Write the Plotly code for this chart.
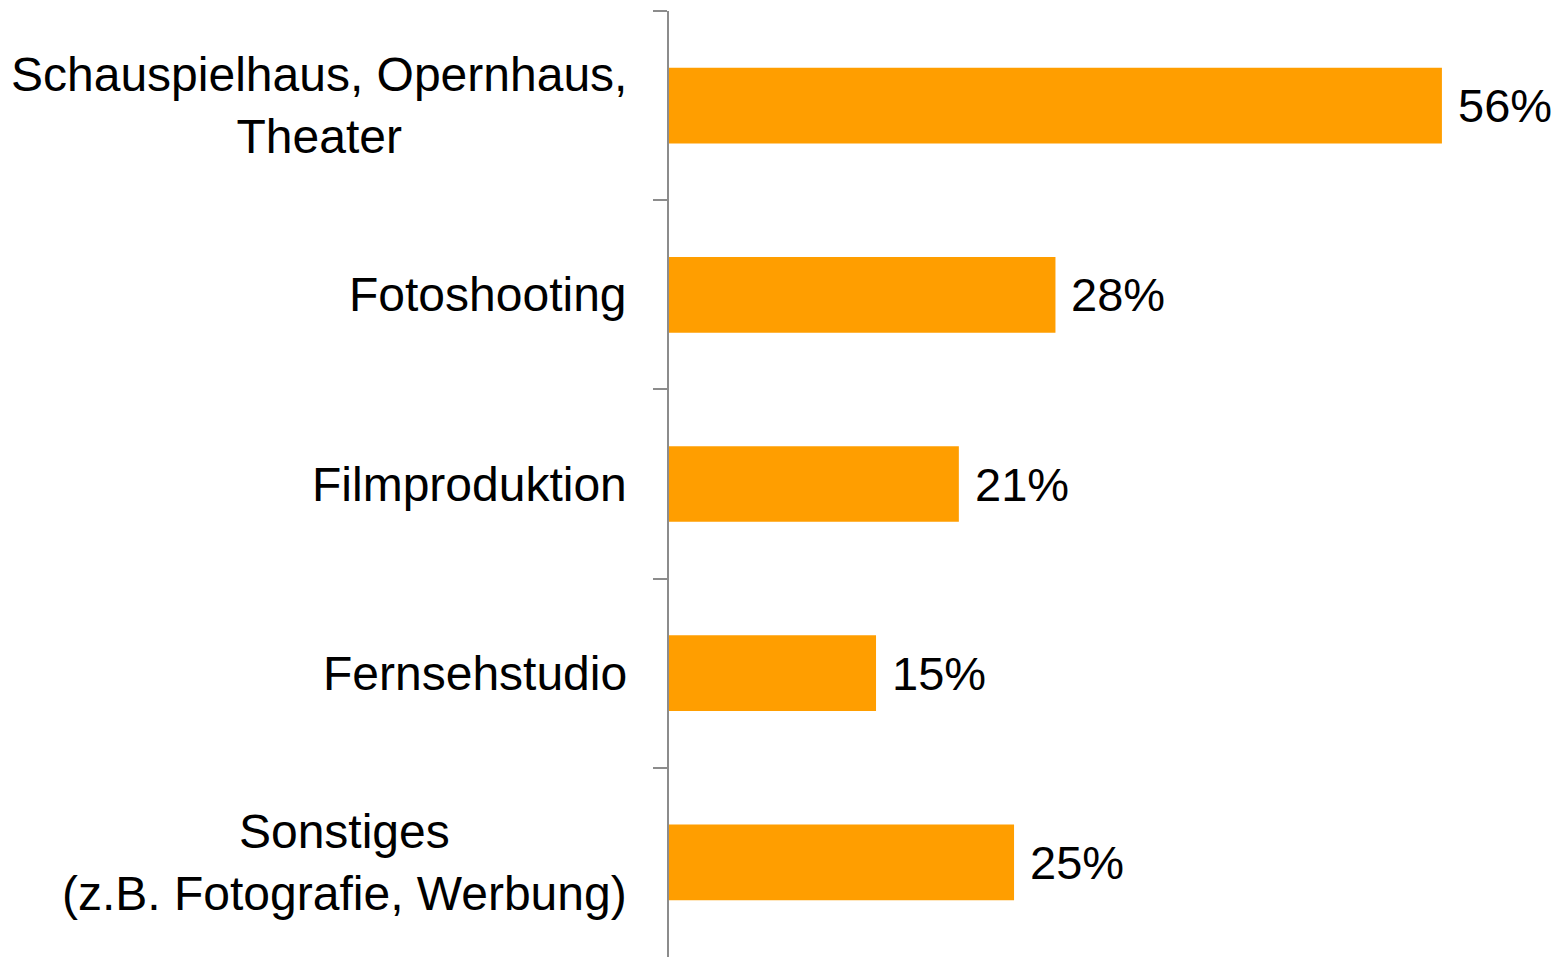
import plotly.graph_objects as go

categories = [
    "Schauspielhaus, Opernhaus,<br>Theater",
    "Fotoshooting",
    "Filmproduktion",
    "Fernsehstudio",
    "Sonstiges<br>(z.B. Fotografie, Werbung)",
]
values = [56, 28, 21, 15, 25]
value_labels = ["56%", "28%", "21%", "15%", "25%"]

FONT = "Liberation Sans, Arial, sans-serif"
BAR_COLOR = "#FF9E00"
AXIS_COLOR = "#8C8C8C"

fig = go.Figure()
fig.add_trace(go.Bar(
    x=values,
    y=categories,
    orientation="h",
    marker=dict(color=BAR_COLOR, line=dict(width=0)),
    width=0.4,
    hoverinfo="skip",
))

annotations = []
for cat, v, lab in zip(categories, values, value_labels):
    annotations.append(dict(
        x=v, y=cat, xref="x", yref="y", text=lab, showarrow=False,
        xanchor="left", yanchor="middle", xshift=14,
        font=dict(family=FONT, size=47, color="#000000"),
    ))
    annotations.append(dict(
        x=0, y=cat, xref="paper", yref="y", text=cat, showarrow=False,
        xanchor="right", yanchor="middle", xshift=-40, align="center",
        font=dict(family=FONT, size=48, color="#000000"),
    ))

fig.update_layout(
    width=1554, height=949,
    margin=dict(l=661, r=0, t=3, b=0),
    paper_bgcolor="white", plot_bgcolor="white",
    showlegend=False,
    annotations=annotations,
    xaxis=dict(range=[0, 64.7], visible=False, showgrid=False, zeroline=False),
    yaxis=dict(
        type="category",
        categoryorder="array", categoryarray=categories,
        range=[4.5, -0.5],
        showticklabels=False,
        showline=True, linecolor=AXIS_COLOR, linewidth=2,
        ticks="outside", tickson="boundaries", ticklen=14,
        tickcolor=AXIS_COLOR, tickwidth=2,
        showgrid=False, zeroline=False,
    ),
)

fig.write_html("out.html")
